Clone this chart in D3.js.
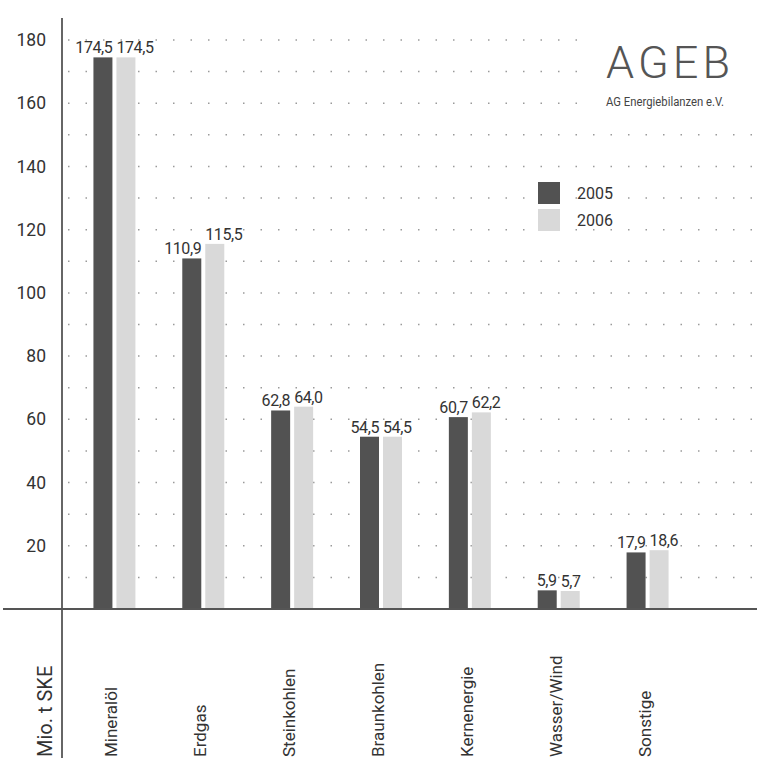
<!DOCTYPE html>
<html><head><meta charset="utf-8">
<script src="https://cdn.jsdelivr.net/npm/d3@7"></script>
<style>body{margin:0;background:#fff}svg{display:block}</style>
</head><body>
<svg id="c" width="760" height="781"></svg>
<script>
const categories = ["Mineralöl","Erdgas","Steinkohlen","Braunkohlen","Kernenergie","Wasser/Wind","Sonstige"];
const years = ["2005","2006"];
const values2005 = [174.5,110.9,62.8,54.5,60.7,5.9,17.9];
const values2006 = [174.5,115.5,64.0,54.5,62.2,5.7,18.6];
const yTicks = [20,40,60,80,100,120,140,160,180];
const gridValues = d3.range(10,190,10);
const yTitle = "Mio. t SKE";
const colors = {"2005":"#525252","2006":"#d9d9d9"};
const fmt = v => d3.format(".1f")(v).replace(".", ",");

const svg = d3.select("#c");
const font = "Roboto,'Liberation Sans',sans-serif";
const y = d3.scaleLinear().domain([0,180]).range([609,40]);
const x = d3.scaleBand().domain(categories).range([70,692]).padding(0);
const bw = x.bandwidth();
const xs = d3.scaleBand().domain(years).range([bw/2-21, bw/2+21]).paddingInner(0.174);

// grid dots
svg.append("g").selectAll("line").data(gridValues).join("line")
  .attr("x1",68).attr("x2",757)
  .attr("y1",d=>y(d)).attr("y2",d=>y(d))
  .attr("stroke","#9a9a9a").attr("stroke-width",1.5)
  .attr("stroke-dasharray","1.5,16");

// logo background
svg.append("rect").attr("x",588).attr("y",18).attr("width",172).attr("height",108).attr("fill","#fff");
svg.append("text").attr("x",606).attr("y",78).text("AGEB")
  .attr("font-family",font).attr("font-weight",300).attr("font-size",45).attr("fill","#555")
  .attr("textLength",124).attr("lengthAdjust","spacing");
svg.append("text").attr("x",606).attr("y",106).text("AG Energiebilanzen e.V.")
  .attr("font-family",font).attr("font-size",12).attr("fill","#444")
  .attr("textLength",118).attr("lengthAdjust","spacingAndGlyphs");

const data = categories.map((c,i)=>({cat:c, vals:[{year:"2005",v:values2005[i]},{year:"2006",v:values2006[i]}]}));

const groups = svg.append("g").selectAll("g").data(data).join("g")
  .attr("transform",d=>`translate(${x(d.cat)},0)`);
groups.selectAll("rect").data(d=>d.vals).join("rect")
  .attr("x",d=>xs(d.year)).attr("width",xs.bandwidth())
  .attr("y",d=>y(d.v)).attr("height",d=>y(0)-y(d.v))
  .attr("fill",d=>colors[d.year]);
groups.selectAll("text").data(d=>d.vals).join("text")
  .attr("x",d=>d.year==="2005"? xs(d.year)+xs.bandwidth() : xs(d.year))
  .attr("y",d=>y(d.v)-4)
  .attr("text-anchor",d=>d.year==="2005"?"end":"start")
  .attr("font-family",font).attr("font-size",16).attr("fill","#333")
  .attr("letter-spacing",-0.4)
  .text(d=>fmt(d.v));

// category labels
svg.append("g").selectAll("text").data(categories).join("text")
  .attr("transform",d=>`translate(${x(d)+bw/2-3},757) rotate(-90)`)
  .attr("text-anchor","start").attr("dy","0.35em")
  .attr("font-family",font).attr("font-size",17).attr("fill","#333")
  .text(d=>d);

// y axis
const yAxis = d3.axisLeft(y).tickValues(yTicks).tickSize(0).tickPadding(0).tickFormat(d3.format("d"));
const ag = svg.append("g").attr("transform","translate(46,0)").call(yAxis);
ag.select(".domain").remove();
ag.selectAll("text").attr("font-family",font).attr("font-size",17.5).attr("fill","#333");

// y-axis title
svg.append("text").attr("transform","translate(45,757) rotate(-90)")
  .attr("dy","0.35em").attr("font-family",font)
  .attr("font-size",20).attr("fill","#333").text(yTitle);

// axis lines
svg.append("line").attr("x1",62).attr("x2",62).attr("y1",18).attr("y2",758)
  .attr("stroke","#666").attr("stroke-width",2);
svg.append("line").attr("x1",3).attr("x2",757).attr("y1",y(0)).attr("y2",y(0))
  .attr("stroke","#555").attr("stroke-width",2);

// legend
const leg = svg.append("g").attr("transform","translate(538,182)");
leg.selectAll("rect").data(years).join("rect")
  .attr("x",0).attr("y",(d,i)=>i*27).attr("width",22).attr("height",22)
  .attr("fill",d=>colors[d]);
leg.selectAll("text").data(years).join("text")
  .attr("x",39).attr("y",(d,i)=>i*27+11).attr("dy","0.35em")
  .attr("font-family",font).attr("font-size",16).attr("fill","#333").text(d=>d);
</script>
</body></html>
